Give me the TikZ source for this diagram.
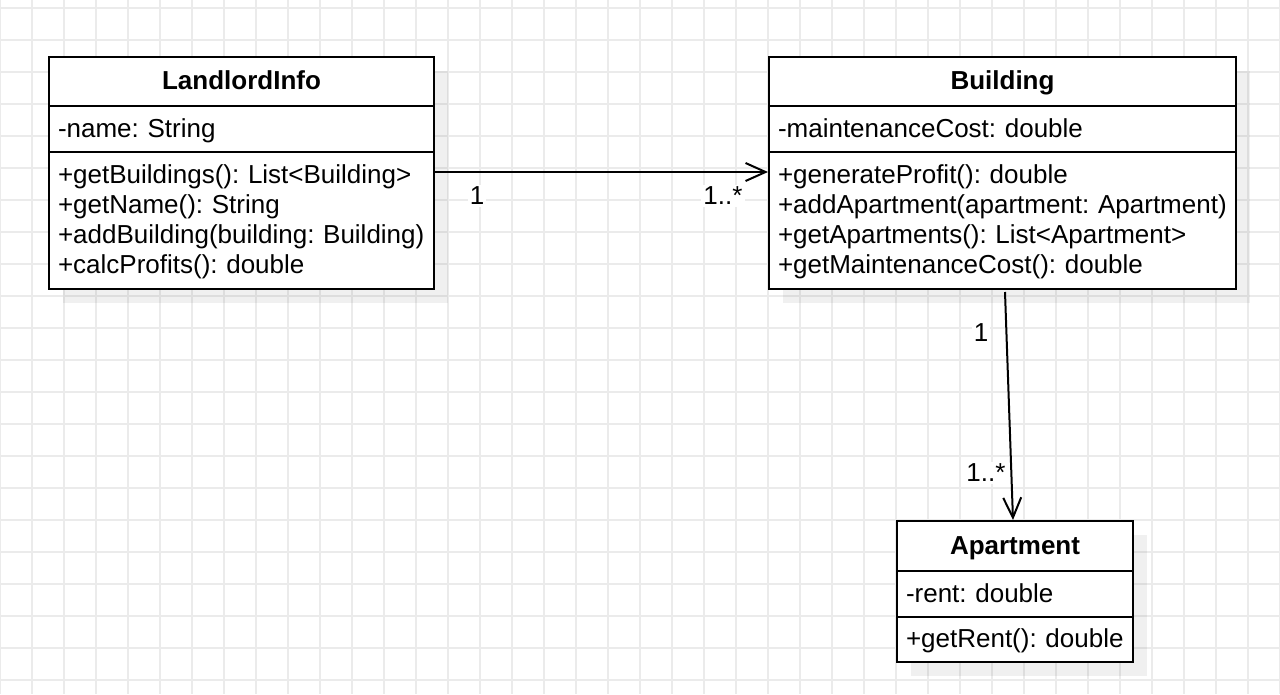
\documentclass[tikz,border=0pt]{standalone}
\usepackage{fontspec}
\setmainfont{Liberation Sans}
\usepackage{tikz}
\usetikzlibrary{arrows.meta,shadows,positioning}

\newcommand{\umlstrut}{\rule[-7pt]{0pt}{30pt}}
\newcommand{\umlfont}{\fontsize{26}{30}\selectfont\frenchspacing\hyphenpenalty=10000\exhyphenpenalty=10000}

\tikzset{
  gridline/.style={draw=black!8, line width=1.6pt},
  umlbox/.style={draw, line width=2pt, fill=white, anchor=north west,
    inner xsep=9pt, inner ysep=0pt, align=left, font=\umlfont,
    execute at begin node=\umlstrut, execute at end node=\umlstrut,
    drop shadow={shadow xshift=14pt, shadow yshift=-14pt, fill=black, opacity=0.06}},
  umlhead/.style={umlbox, align=center, font=\umlfont\bfseries},
  assoc/.style={line width=2pt, -{Straight Barb[length=20pt,width=18pt]}},
  mult/.style={fill=white, inner sep=2pt, font=\umlfont}
}

\begin{document}
\begin{tikzpicture}[x=1pt,y=-1pt]
  \useasboundingbox (0,0) rectangle (1280,694);
  % background grid
  \foreach \gx in {0,32,...,1280}
    \draw[gridline] (\gx,0) -- (\gx,694);
  \foreach \gy in {8,40,...,680}
    \draw[gridline] (0,\gy) -- (1280,\gy);

  % LandlordInfo
  \node[umlhead, text width=367pt, minimum height=49pt] (lhead) at (48,56) {LandlordInfo};
  \node[umlbox, text width=367pt, minimum height=46pt] (lattr) at (48,105) {-name: String};
  \node[umlbox, text width=367pt, minimum height=137pt] (lops) at (48,151)
    {+getBuildings(): List<Building>\\+getName(): String\\+addBuilding(building: Building)\\+calcProfits(): double};

  % Building
  \node[umlhead, text width=449pt, minimum height=49pt] (bhead) at (768,56) {Building};
  \node[umlbox, text width=449pt, minimum height=46pt] (battr) at (768,105) {-maintenanceCost: double};
  \node[umlbox, text width=449pt, minimum height=137pt] (bops) at (768,151)
    {+generateProfit(): double\\+addApartment(apartment: Apartment)\\+getApartments(): List<Apartment>\\+getMaintenanceCost(): double};

  % Apartment
  \node[umlhead, text width=218pt, minimum height=50pt] (ahead) at (896,520) {Apartment};
  \node[umlbox, text width=218pt, minimum height=46pt] (aattr) at (896,570) {-rent: double};
  \node[umlbox, text width=218pt, minimum height=45pt] (aops) at (896,616) {+getRent(): double};

  % associations
  \draw[assoc] ([yshift=-21pt]lops.north east) -- ([yshift=-21pt]bops.north west);
  \draw[assoc] ([xshift=2.5pt,yshift=-2pt]bops.south) -- ([xshift=-2pt]ahead.north);

  % multiplicities
  \node[mult] (m1) at (477,196) {1};
  \node[mult] (m2) at (723,196) {1..*};
  \node[mult] (m3) at (981,333) {1};
  \node[mult] (m4) at (986,473) {1..*};
\end{tikzpicture}
\end{document}
